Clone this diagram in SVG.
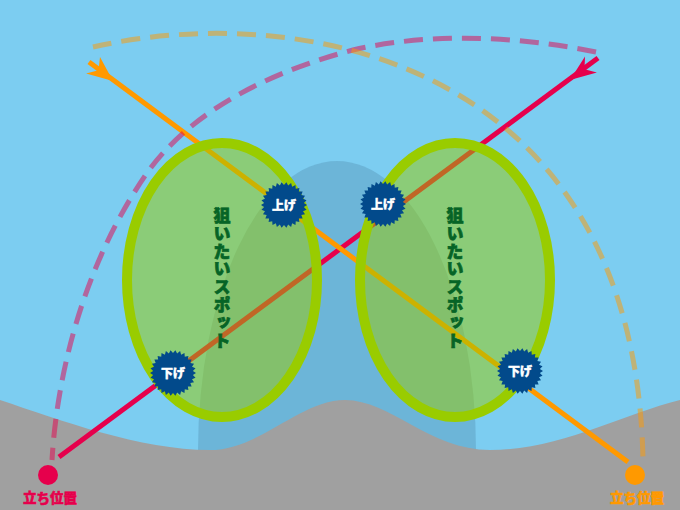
<svg xmlns="http://www.w3.org/2000/svg" width="680" height="510" viewBox="0 0 680 510">
<style>
.line{fill:none;stroke-width:5;stroke-linecap:butt}
.arc{fill:none;stroke-width:5;stroke-dasharray:19 10;opacity:0.5}
.spot{fill:rgba(153,204,0,0.5);stroke:#99cc00;stroke-width:10}
.badge{fill:#024a8b}
.btxt{font-family:"Noto Sans CJK JP","Noto Sans",sans-serif;font-weight:900;font-size:12px;fill:#ffffff;stroke:#ffffff;stroke-width:0.4;text-anchor:middle}
.vtxt{font-family:"Noto Sans CJK JP",sans-serif;font-weight:900;font-size:17px;fill:#066426;stroke:#066426;stroke-width:0.7;writing-mode:vertical-rl;letter-spacing:0.8px}
.lbl{font-family:"Noto Sans CJK JP",sans-serif;font-weight:900;font-size:13.5px;stroke-width:0.5;text-anchor:middle}
</style>
<defs>
<polygon id="burst" points="23,0 19.89,2.09 22.5,4.78 19.02,6.18 21.01,9.35 17.32,10 18.61,13.52 14.86,13.38 15.39,17.09 11.76,16.18 11.5,19.92 8.13,18.27 7.11,21.88 4.16,19.56 2.4,22.87 0,20 -2.4,22.87 -4.16,19.56 -7.11,21.88 -8.13,18.27 -11.5,19.92 -11.76,16.18 -15.39,17.09 -14.86,13.38 -18.61,13.52 -17.32,10 -21.01,9.35 -19.02,6.18 -22.5,4.78 -19.89,2.09 -23,0 -19.89,-2.09 -22.5,-4.78 -19.02,-6.18 -21.01,-9.35 -17.32,-10 -18.61,-13.52 -14.86,-13.38 -15.39,-17.09 -11.76,-16.18 -11.5,-19.92 -8.13,-18.27 -7.11,-21.88 -4.16,-19.56 -2.4,-22.87 0,-20 2.4,-22.87 4.16,-19.56 7.11,-21.88 8.13,-18.27 11.5,-19.92 11.76,-16.18 15.39,-17.09 14.86,-13.38 18.61,-13.52 17.32,-10 21.01,-9.35 19.02,-6.18 22.5,-4.78 19.89,-2.09"/>
</defs>
<!-- background -->
<rect x="0" y="0" width="680" height="510" fill="#7ccdf1"/>
<ellipse cx="337" cy="451" rx="139" ry="290" fill="#6cb5d8"/>
<path d="M0,400 C60,420 140,450 210,450 C260,450 300,400 345,400 C390,400 430,450 490,450 C560,450 620,415 680,400 V510 H0 Z" fill="#a0a0a0"/>
<!-- connectors -->
<g id="connectors">
<line class="line" x1="59" y1="457" x2="598" y2="58" stroke="#e6004c"/>
<polygon points="570,80 596.9,72.5 584.5,69.3 585,56.5" fill="#e6004c"/>
<line class="line" x1="89" y1="62" x2="628" y2="462" stroke="#ff9900"/>
<polygon points="113,81 100,57 98.5,70.3 86.1,73.5" fill="#ff9900"/>
<path class="arc" stroke="#e6004c" d="M596,52 C517,36 431,32 353,50 C276,70 193,108 147,173 C90,255 58,360 52,460"/>
<path class="arc" stroke="#ff9900" d="M93,47 C300,0 635,60 643,460"/>
</g>
<!-- spots -->
<g id="spot-left">
<ellipse class="spot" cx="222" cy="280" rx="95" ry="137"/>
<text class="vtxt" x="222" y="207">狙いたいスポット</text>
</g>
<g id="spot-right">
<ellipse class="spot" cx="455" cy="280" rx="95" ry="137"/>
<text class="vtxt" x="455" y="207">狙いたいスポット</text>
</g>
<!-- badges -->
<g id="badge-up-left">
<use href="#burst" class="badge" x="284" y="205"/>
<text class="btxt" x="284" y="209.5">上げ</text>
</g>
<g id="badge-up-right">
<use href="#burst" class="badge" x="383" y="204"/>
<text class="btxt" x="383" y="208.5">上げ</text>
</g>
<g id="badge-down-left">
<use href="#burst" class="badge" x="173" y="373"/>
<text class="btxt" x="173" y="377.5">下げ</text>
</g>
<g id="badge-down-right">
<use href="#burst" class="badge" x="520" y="371"/>
<text class="btxt" x="520" y="375.5">下げ</text>
</g>
<!-- standing positions -->
<g id="pos-left">
<circle cx="48" cy="475" r="10" fill="#e6004c"/>
<text class="lbl" x="50" y="503" fill="#e6004c" stroke="#e6004c">立ち位置</text>
</g>
<g id="pos-right">
<circle cx="635" cy="475" r="10" fill="#ff9900"/>
<text class="lbl" x="637" y="503" fill="#ff9900" stroke="#ff9900">立ち位置</text>
</g>
</svg>
